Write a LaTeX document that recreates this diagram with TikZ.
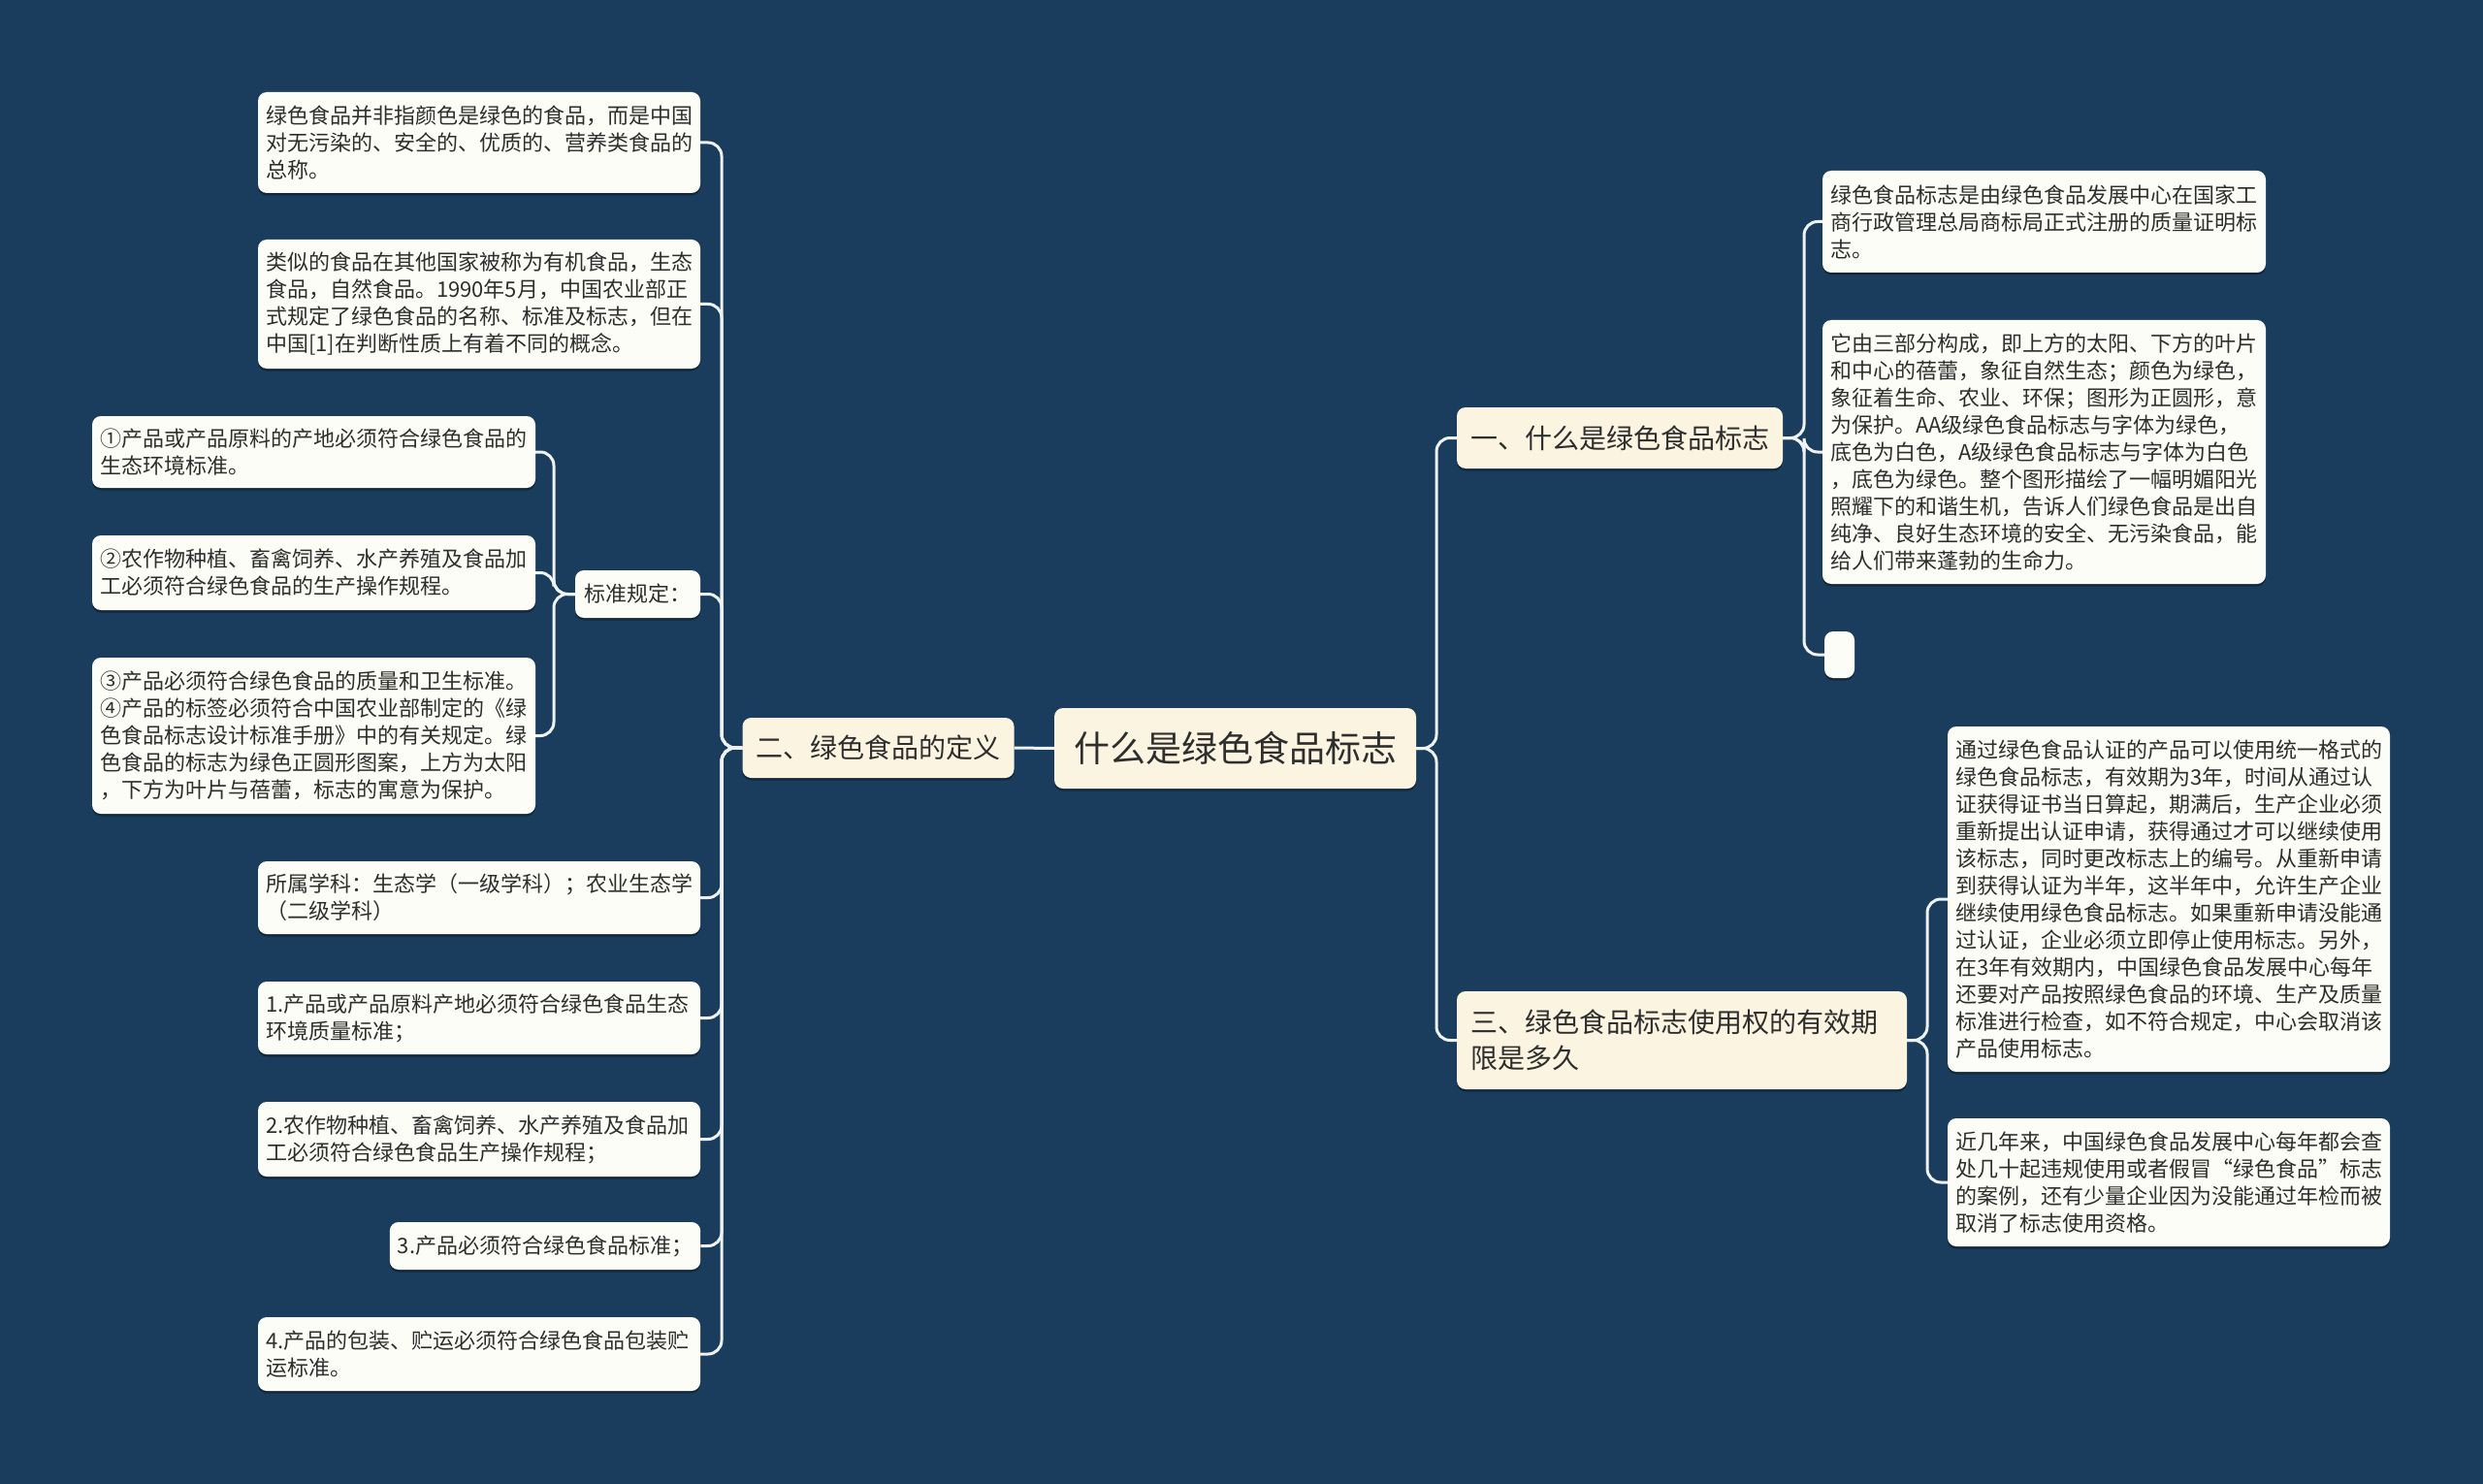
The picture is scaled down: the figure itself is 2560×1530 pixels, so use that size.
\documentclass[tikz,border=0pt]{standalone}
\usepackage{fontspec}
\setmainfont{Noto Sans CJK SC}
\usetikzlibrary{shadows}
\definecolor{bgc}{HTML}{1A3D5E}
\definecolor{mainc}{HTML}{FAF4E0}
\definecolor{leafc}{HTML}{FDFDF7}
\definecolor{linec}{HTML}{EEF2F2}
\definecolor{textc}{HTML}{2E2E2E}
\tikzset{
  box/.style={rounded corners=9pt, text=textc, align=left, anchor=center,
    drop shadow={opacity=0.35, shadow xshift=0pt, shadow yshift=-2.5pt, fill=black}},
  leaf/.style={box, fill=leafc, inner xsep=8pt, inner ysep=0pt, font=\fontsize{22pt}{28pt}\selectfont},
  topic/.style={box, fill=mainc, inner xsep=14pt, inner ysep=0pt, font=\fontsize{28pt}{37pt}\selectfont},
  rootbox/.style={box, fill=mainc, inner xsep=18pt, inner ysep=0pt, align=center, font=\fontsize{37pt}{44pt}\selectfont},
  conn/.style={draw=linec, line width=3pt, rounded corners=14pt}
}
\begin{document}
\begin{tikzpicture}[x=1pt,y=-1pt]
\fill[bgc] (0,0) rectangle (2560,1530);
\useasboundingbox (0,0) rectangle (2560,1530);

% root and topics
\node[rootbox, minimum width=373pt, minimum height=83pt] (root) at (1273.5,771.5) {什么是绿色食品标志};
\node[topic, minimum width=279pt, minimum height=62pt] (t2) at (905.5,771) {二、绿色食品的定义};
\node[topic, minimum width=336pt, minimum height=63pt] (t1) at (1670,451.5) {一、什么是绿色食品标志};
\node[topic, minimum width=464pt, minimum height=101pt, text width=436pt] (t3) at (1734,1072.5) {三、绿色食品标志使用权的有效期\\限是多久};

% left leaves
\node[leaf, minimum width=456pt, minimum height=104pt, text width=440pt] (l1) at (494,147) {绿色食品并非指颜色是绿色的食品，而是中国\\对无污染的、安全的、优质的、营养类食品的\\总称。};
\node[leaf, minimum width=456pt, minimum height=133pt, text width=440pt] (l2) at (494,313.5) {类似的食品在其他国家被称为有机食品，生态\\食品，自然食品。1990年5月，中国农业部正\\式规定了绿色食品的名称、标准及标志，但在\\中国[1]在判断性质上有着不同的概念。};
\node[leaf, minimum width=129pt, minimum height=49pt] (std) at (657.5,612.5) {标准规定：};
\node[leaf, minimum width=457pt, minimum height=74pt, text width=441pt] (s1) at (323.5,466) {①产品或产品原料的产地必须符合绿色食品的\\生态环境标准。};
\node[leaf, minimum width=457pt, minimum height=77pt, text width=441pt] (s2) at (323.5,590.5) {②农作物种植、畜禽饲养、水产养殖及食品加\\工必须符合绿色食品的生产操作规程。};
\node[leaf, minimum width=457pt, minimum height=161pt, text width=441pt] (s3) at (323.5,758.5) {③产品必须符合绿色食品的质量和卫生标准。\\④产品的标签必须符合中国农业部制定的《绿\\色食品标志设计标准手册》中的有关规定。绿\\色食品的标志为绿色正圆形图案，上方为太阳\\，下方为叶片与蓓蕾，标志的寓意为保护。};
\node[leaf, minimum width=456pt, minimum height=75pt, text width=440pt] (l4) at (494,925.5) {所属学科：生态学（一级学科）；农业生态学\\（二级学科）};
\node[leaf, minimum width=456pt, minimum height=75pt, text width=440pt] (l5) at (494,1049.5) {1.产品或产品原料产地必须符合绿色食品生态\\环境质量标准；};
\node[leaf, minimum width=456pt, minimum height=77pt, text width=440pt] (l6) at (494,1174.5) {2.农作物种植、畜禽饲养、水产养殖及食品加\\工必须符合绿色食品生产操作规程；};
\node[leaf, minimum width=320pt, minimum height=49pt] (l7) at (562,1284.5) {3.产品必须符合绿色食品标准；};
\node[leaf, minimum width=456pt, minimum height=76pt, text width=440pt] (l8) at (494,1396) {4.产品的包装、贮运必须符合绿色食品包装贮\\运标准。};

% right leaves
\node[leaf, minimum width=457pt, minimum height=105pt, text width=441pt] (r1) at (2107.5,228.5) {绿色食品标志是由绿色食品发展中心在国家工\\商行政管理总局商标局正式注册的质量证明标\\志。};
\node[leaf, minimum width=457pt, minimum height=272pt, text width=441pt] (r2) at (2107.5,466) {它由三部分构成，即上方的太阳、下方的叶片\\和中心的蓓蕾，象征自然生态；颜色为绿色，\\象征着生命、农业、环保；图形为正圆形，意\\为保护。AA级绿色食品标志与字体为绿色，\\底色为白色，A级绿色食品标志与字体为白色\\，底色为绿色。整个图形描绘了一幅明媚阳光\\照耀下的和谐生机，告诉人们绿色食品是出自\\纯净、良好生态环境的安全、无污染食品，能\\给人们带来蓬勃的生命力。};
\node[leaf, minimum width=31pt, minimum height=48pt, inner xsep=0pt] (r3) at (1896.5,675) {};
\node[leaf, minimum width=456pt, minimum height=356pt, text width=440pt] (r4) at (2236,927) {通过绿色食品认证的产品可以使用统一格式的\\绿色食品标志，有效期为3年，时间从通过认\\证获得证书当日算起，期满后，生产企业必须\\重新提出认证申请，获得通过才可以继续使用\\该标志，同时更改标志上的编号。从重新申请\\到获得认证为半年，这半年中，允许生产企业\\继续使用绿色食品标志。如果重新申请没能通\\过认证，企业必须立即停止使用标志。另外，\\在3年有效期内，中国绿色食品发展中心每年\\还要对产品按照绿色食品的环境、生产及质量\\标准进行检查，如不符合规定，中心会取消该\\产品使用标志。};
\node[leaf, minimum width=456pt, minimum height=132pt, text width=440pt] (r5) at (2236,1219) {近几年来，中国绿色食品发展中心每年都会查\\处几十起违规使用或者假冒“绿色食品”标志\\的案例，还有少量企业因为没能通过年检而被\\取消了标志使用资格。};

% connectors: root
\draw[conn] (root.west) -- (t2.east);
\foreach \c in {t1,t3} \draw[conn] (root.east) -- (1481,771.5) |- (\c.west);
% topic 2 children
\foreach \c in {l1,l2,std,l4,l5,l6,l7,l8} \draw[conn] (t2.west) -- (744,771) |- (\c.east);
% standard children
\foreach \c in {s1,s2,s3} \draw[conn] (std.west) -- (571,612.5) |- (\c.east);
% topic 1 children
\foreach \c in {r1,r2,r3} \draw[conn] (t1.east) -- (1860,451.5) |- (\c.west);
% topic 3 children
\foreach \c in {r4,r5} \draw[conn] (t3.east) -- (1987,1072.5) |- (\c.west);
\end{tikzpicture}
\end{document}
